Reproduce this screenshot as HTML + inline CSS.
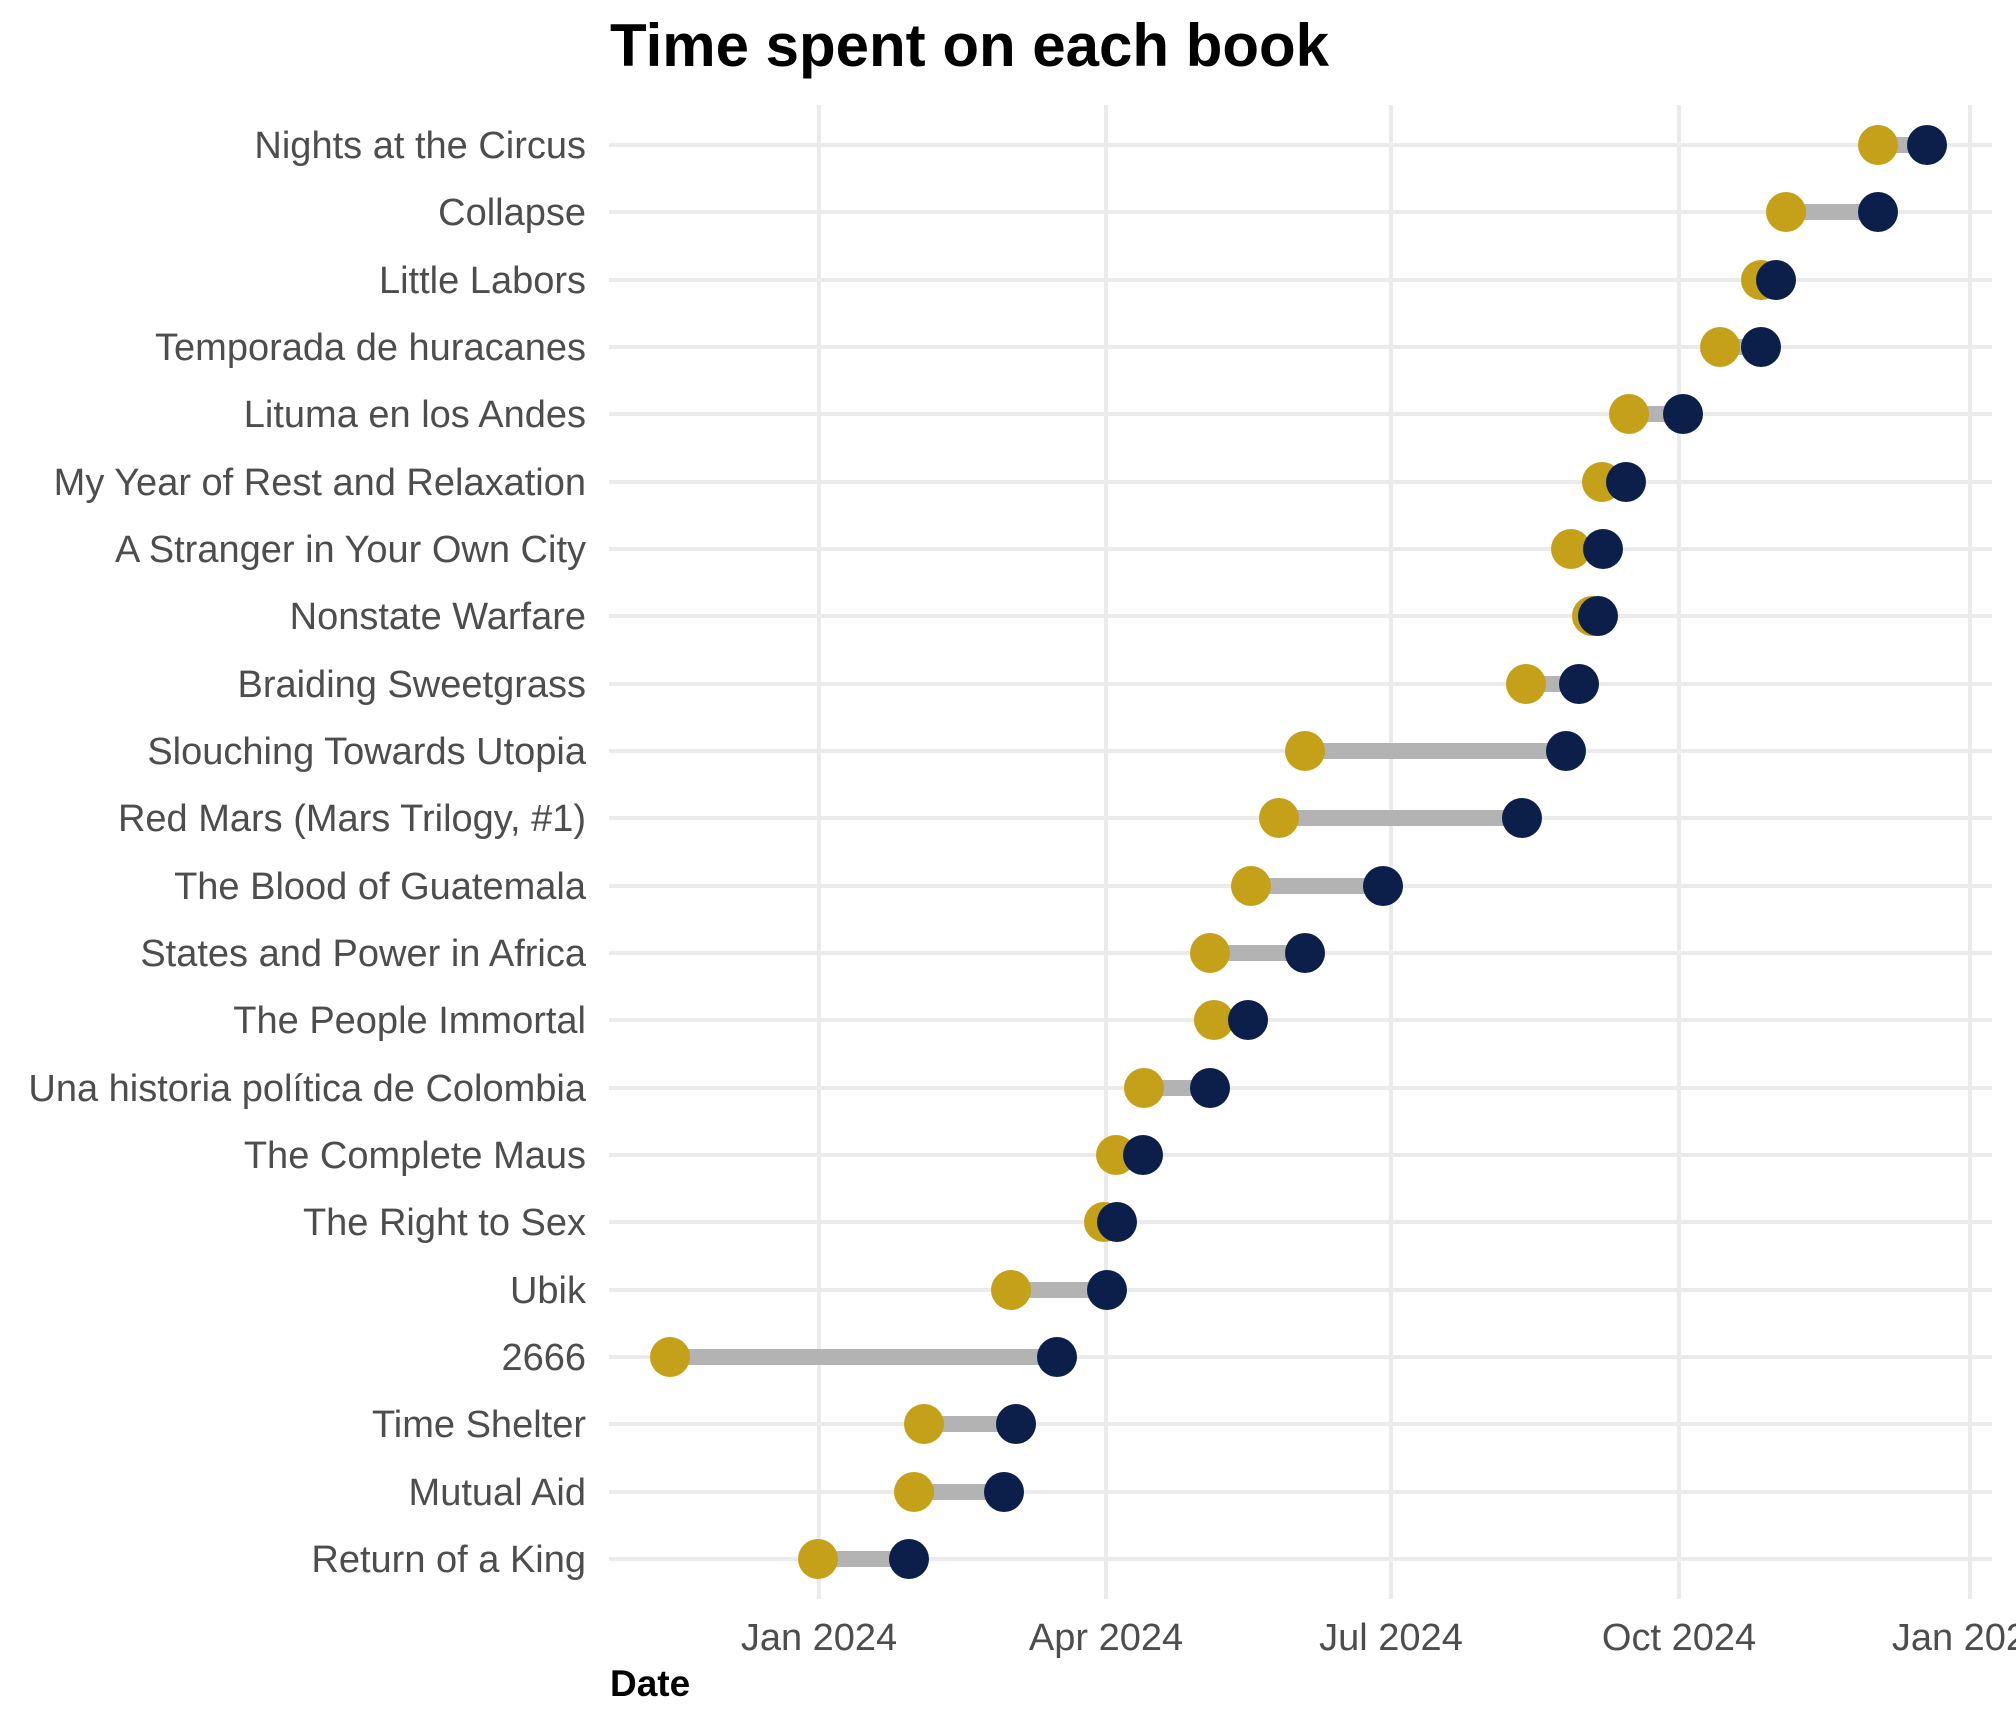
<!DOCTYPE html>
<html><head><style>html,body{margin:0;padding:0;background:#fff;}</style></head>
<body>
<svg xmlns="http://www.w3.org/2000/svg" width="2016" height="1728" viewBox="0 0 2016 1728" font-family="Liberation Sans, Arial, sans-serif">
<rect width="2016" height="1728" fill="#fff"/>
<g stroke="#ebebeb" stroke-width="4">
<line x1="819" y1="105" x2="819" y2="1599"/>
<line x1="1106" y1="105" x2="1106" y2="1599"/>
<line x1="1391" y1="105" x2="1391" y2="1599"/>
<line x1="1679" y1="105" x2="1679" y2="1599"/>
<line x1="1970" y1="105" x2="1970" y2="1599"/>
</g>
<text x="610" y="66" font-size="60" font-weight="bold" fill="#000">Time spent on each book</text>
<g font-size="38" fill="#4d4d4d" text-anchor="middle">
<text x="819" y="1650">Jan 2024</text>
<text x="1106" y="1650">Apr 2024</text>
<text x="1391" y="1650">Jul 2024</text>
<text x="1679" y="1650">Oct 2024</text>
<text x="1970" y="1650">Jan 2025</text>
</g>
<text x="610" y="1696" font-size="37" font-weight="bold" fill="#000">Date</text>
<g font-size="38" fill="#4d4d4d" text-anchor="end">
<text x="586" y="158">Nights at the Circus</text>
<text x="586" y="225">Collapse</text>
<text x="586" y="293">Little Labors</text>
<text x="586" y="360">Temporada de huracanes</text>
<text x="586" y="427">Lituma en los Andes</text>
<text x="586" y="495">My Year of Rest and Relaxation</text>
<text x="586" y="562">A Stranger in Your Own City</text>
<text x="586" y="629">Nonstate Warfare</text>
<text x="586" y="697">Braiding Sweetgrass</text>
<text x="586" y="764">Slouching Towards Utopia</text>
<text x="586" y="831">Red Mars (Mars Trilogy, #1)</text>
<text x="586" y="899">The Blood of Guatemala</text>
<text x="586" y="966">States and Power in Africa</text>
<text x="586" y="1033">The People Immortal</text>
<text x="586" y="1101">Una historia política de Colombia</text>
<text x="586" y="1168">The Complete Maus</text>
<text x="586" y="1235">The Right to Sex</text>
<text x="586" y="1303">Ubik</text>
<text x="586" y="1370">2666</text>
<text x="586" y="1437">Time Shelter</text>
<text x="586" y="1505">Mutual Aid</text>
<text x="586" y="1572">Return of a King</text>
</g>
<g stroke="#ebebeb" stroke-width="4">
<line x1="609" x2="1992" y1="145" y2="145"/><line x1="609" x2="1992" y1="212" y2="212"/><line x1="609" x2="1992" y1="280" y2="280"/><line x1="609" x2="1992" y1="347" y2="347"/><line x1="609" x2="1992" y1="414" y2="414"/><line x1="609" x2="1992" y1="482" y2="482"/><line x1="609" x2="1992" y1="549" y2="549"/><line x1="609" x2="1992" y1="616" y2="616"/><line x1="609" x2="1992" y1="684" y2="684"/><line x1="609" x2="1992" y1="751" y2="751"/><line x1="609" x2="1992" y1="818" y2="818"/><line x1="609" x2="1992" y1="886" y2="886"/><line x1="609" x2="1992" y1="953" y2="953"/><line x1="609" x2="1992" y1="1020" y2="1020"/><line x1="609" x2="1992" y1="1088" y2="1088"/><line x1="609" x2="1992" y1="1155" y2="1155"/><line x1="609" x2="1992" y1="1222" y2="1222"/><line x1="609" x2="1992" y1="1290" y2="1290"/><line x1="609" x2="1992" y1="1357" y2="1357"/><line x1="609" x2="1992" y1="1424" y2="1424"/><line x1="609" x2="1992" y1="1492" y2="1492"/><line x1="609" x2="1992" y1="1559" y2="1559"/>
</g>
<g stroke="#b3b3b3" stroke-width="16">
<line x1="1878" x2="1927" y1="145" y2="145"/>
<line x1="1786" x2="1878" y1="212" y2="212"/>
<line x1="1761" x2="1776" y1="280" y2="280"/>
<line x1="1720" x2="1761" y1="347" y2="347"/>
<line x1="1629" x2="1683" y1="414" y2="414"/>
<line x1="1602" x2="1626" y1="482" y2="482"/>
<line x1="1571" x2="1603" y1="549" y2="549"/>
<line x1="1592" x2="1598" y1="616" y2="616"/>
<line x1="1526" x2="1579" y1="684" y2="684"/>
<line x1="1305" x2="1566" y1="751" y2="751"/>
<line x1="1279" x2="1522" y1="818" y2="818"/>
<line x1="1251" x2="1383" y1="886" y2="886"/>
<line x1="1210" x2="1305" y1="953" y2="953"/>
<line x1="1214" x2="1248" y1="1020" y2="1020"/>
<line x1="1144" x2="1210" y1="1088" y2="1088"/>
<line x1="1116" x2="1143" y1="1155" y2="1155"/>
<line x1="1104" x2="1117" y1="1222" y2="1222"/>
<line x1="1011" x2="1107" y1="1290" y2="1290"/>
<line x1="670" x2="1057" y1="1357" y2="1357"/>
<line x1="924" x2="1016" y1="1424" y2="1424"/>
<line x1="914" x2="1004" y1="1492" y2="1492"/>
<line x1="818" x2="909" y1="1559" y2="1559"/>
</g>
<g fill="#C5A019">
<circle r="20" cx="1878" cy="145"/><circle r="20" cx="1786" cy="212"/><circle r="20" cx="1761" cy="280"/><circle r="20" cx="1720" cy="347"/><circle r="20" cx="1629" cy="414"/><circle r="20" cx="1602" cy="482"/><circle r="20" cx="1571" cy="549"/><circle r="20" cx="1592" cy="616"/><circle r="20" cx="1526" cy="684"/><circle r="20" cx="1305" cy="751"/><circle r="20" cx="1279" cy="818"/><circle r="20" cx="1251" cy="886"/><circle r="20" cx="1210" cy="953"/><circle r="20" cx="1214" cy="1020"/><circle r="20" cx="1144" cy="1088"/><circle r="20" cx="1116" cy="1155"/><circle r="20" cx="1104" cy="1222"/><circle r="20" cx="1011" cy="1290"/><circle r="20" cx="670" cy="1357"/><circle r="20" cx="924" cy="1424"/><circle r="20" cx="914" cy="1492"/><circle r="20" cx="818" cy="1559"/>
</g>
<g fill="#0C1F4B">
<circle r="20" cx="1927" cy="145"/><circle r="20" cx="1878" cy="212"/><circle r="20" cx="1776" cy="280"/><circle r="20" cx="1761" cy="347"/><circle r="20" cx="1683" cy="414"/><circle r="20" cx="1626" cy="482"/><circle r="20" cx="1603" cy="549"/><circle r="20" cx="1598" cy="616"/><circle r="20" cx="1579" cy="684"/><circle r="20" cx="1566" cy="751"/><circle r="20" cx="1522" cy="818"/><circle r="20" cx="1383" cy="886"/><circle r="20" cx="1305" cy="953"/><circle r="20" cx="1248" cy="1020"/><circle r="20" cx="1210" cy="1088"/><circle r="20" cx="1143" cy="1155"/><circle r="20" cx="1117" cy="1222"/><circle r="20" cx="1107" cy="1290"/><circle r="20" cx="1057" cy="1357"/><circle r="20" cx="1016" cy="1424"/><circle r="20" cx="1004" cy="1492"/><circle r="20" cx="909" cy="1559"/>
</g>
</svg>
</body></html>
